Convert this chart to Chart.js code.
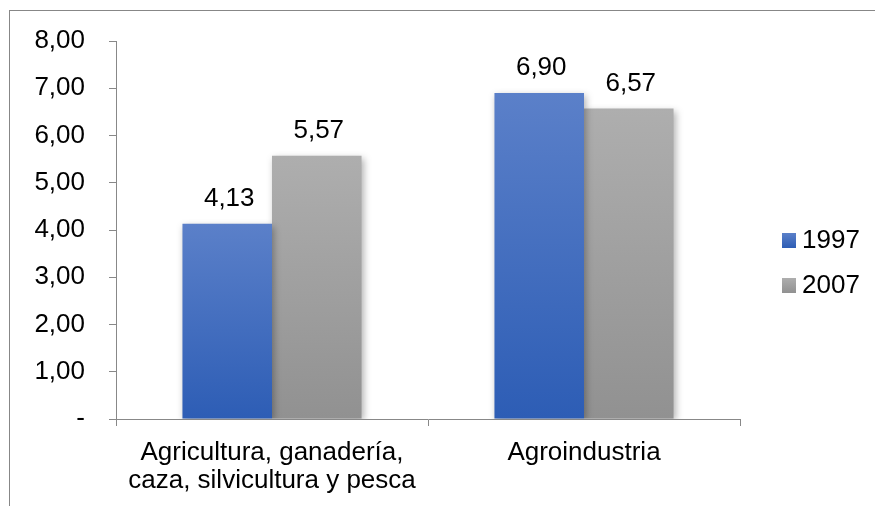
<!DOCTYPE html>
<html>
<head>
<meta charset="utf-8">
<script src="https://cdn.jsdelivr.net/npm/chart.js@4/dist/chart.umd.min.js"></script>
<style>
  html, body { margin: 0; padding: 0; background: #fff; }
  #wrap { position: relative; width: 875px; height: 506px; overflow: hidden; }
  #frame { position: absolute; left: 9px; top: 10px; width: 1000px; height: 700px; border: 1px solid #878787; }
  canvas { position: absolute; left: 0; top: 0; }
</style>
</head>
<body>
<div id="wrap">
  <div id="frame"></div>
  <canvas id="chart" width="875" height="506"></canvas>
</div>
<script>
// Categories and series values
const categories = [
  ['Agricultura, ganadería,', 'caza, silvicultura y pesca'],
  'Agroindustria'
];
const seriesLabels = ['1997', '2007'];
const values1997 = [4.13, 6.90];
const values2007 = [5.57, 6.57];
const yTicks = [0, 1, 2, 3, 4, 5, 6, 7, 8];

const FONT = 'Liberation Sans, Arial, sans-serif';
const AXIS = '#888888';

const palettes = {
  '1997': { top: '#5B80C9', bottom: '#2D5DB5' },
  '2007': { top: '#AEAEAE', bottom: '#919191' }
};

function fmt(v) {
  return v === 0 ? '-' : v.toFixed(2).replace('.', ',');
}

// Vertical gradient per bar, from its top down to the baseline
function barFill(key) {
  return function (ctx) {
    const chart = ctx.chart;
    if (!chart.chartArea || ctx.raw == null) return palettes[key].bottom;
    const y = chart.scales.y;
    const top = y.getPixelForValue(ctx.raw);
    const base = y.getPixelForValue(0);
    const g = chart.ctx.createLinearGradient(0, top, 0, base);
    g.addColorStop(0, palettes[key].top);
    g.addColorStop(1, palettes[key].bottom);
    return g;
  };
}

// Soft drop shadow behind the bars
const barShadow = {
  id: 'barShadow',
  beforeDatasetsDraw(chart) {
    const c = chart.ctx;
    c.save();
    c.shadowColor = 'rgba(0,0,0,0.3)';
    c.shadowBlur = 7;
    c.shadowOffsetX = 2;
    c.shadowOffsetY = 2;
  },
  afterDatasetsDraw(chart) {
    chart.ctx.restore();
  }
};

// Value labels above each bar
const valueLabels = {
  id: 'valueLabels',
  afterDatasetsDraw(chart) {
    const c = chart.ctx;
    c.save();
    c.font = '26px ' + FONT;
    c.fillStyle = '#000';
    c.textAlign = 'center';
    c.textBaseline = 'alphabetic';
    chart.data.datasets.forEach((ds, i) => {
      chart.getDatasetMeta(i).data.forEach((bar, j) => {
        c.fillText(fmt(ds.data[j]), bar.x + 2, bar.y - 18);
      });
    });
    c.restore();
  }
};

// Legend on the right with square swatches
const sideLegend = {
  id: 'sideLegend',
  afterDraw(chart) {
    const c = chart.ctx;
    c.save();
    c.font = '26px ' + FONT;
    c.textAlign = 'left';
    c.textBaseline = 'alphabetic';
    const rows = [248, 293];
    chart.data.datasets.forEach((ds, i) => {
      const yb = rows[i];
      const p = palettes[ds.label];
      const g = c.createLinearGradient(0, yb - 15, 0, yb);
      g.addColorStop(0, p.top);
      g.addColorStop(1, p.bottom);
      c.fillStyle = g;
      c.fillRect(782, yb - 15, 14, 15);
      c.fillStyle = '#000';
      c.fillText(ds.label, 802, yb);
    });
    c.restore();
  }
};

new Chart(document.getElementById('chart'), {
  type: 'bar',
  data: {
    labels: categories,
    datasets: [
      { label: seriesLabels[0], data: values1997, backgroundColor: barFill('1997') },
      { label: seriesLabels[1], data: values2007, backgroundColor: barFill('2007') }
    ]
  },
  options: {
    responsive: false,
    animation: false,
    events: [],
    layout: { padding: { left: 0, right: 135, top: 41, bottom: 0 } },
    datasets: { bar: { categoryPercentage: 0.574, barPercentage: 1.0, borderWidth: 0 } },
    plugins: {
      legend: { display: false },
      tooltip: { enabled: false }
    },
    scales: {
      x: {
        grid: { display: true, drawOnChartArea: false, offset: true, tickLength: 7, color: AXIS },
        border: { display: true, color: AXIS, width: 1 },
        ticks: {
          color: '#000',
          padding: 13,
          maxRotation: 0,
          autoSkip: false,
          font: { family: FONT, size: 26, lineHeight: 1.08 }
        },
        afterFit(scale) { scale.height = 87; }
      },
      y: {
        min: 0,
        max: 8,
        afterBuildTicks(scale) { scale.ticks = yTicks.map(v => ({ value: v })); },
        grid: { display: true, drawOnChartArea: false, tickLength: 7, color: AXIS },
        border: { display: true, color: AXIS, width: 1 },
        ticks: {
          color: '#000',
          padding: 24,
          font: { family: FONT, size: 26 },
          callback: (v) => fmt(v)
        },
        afterFit(scale) { scale.width = 116; }
      }
    }
  },
  plugins: [barShadow, valueLabels, sideLegend]
});
</script>
</body>
</html>
